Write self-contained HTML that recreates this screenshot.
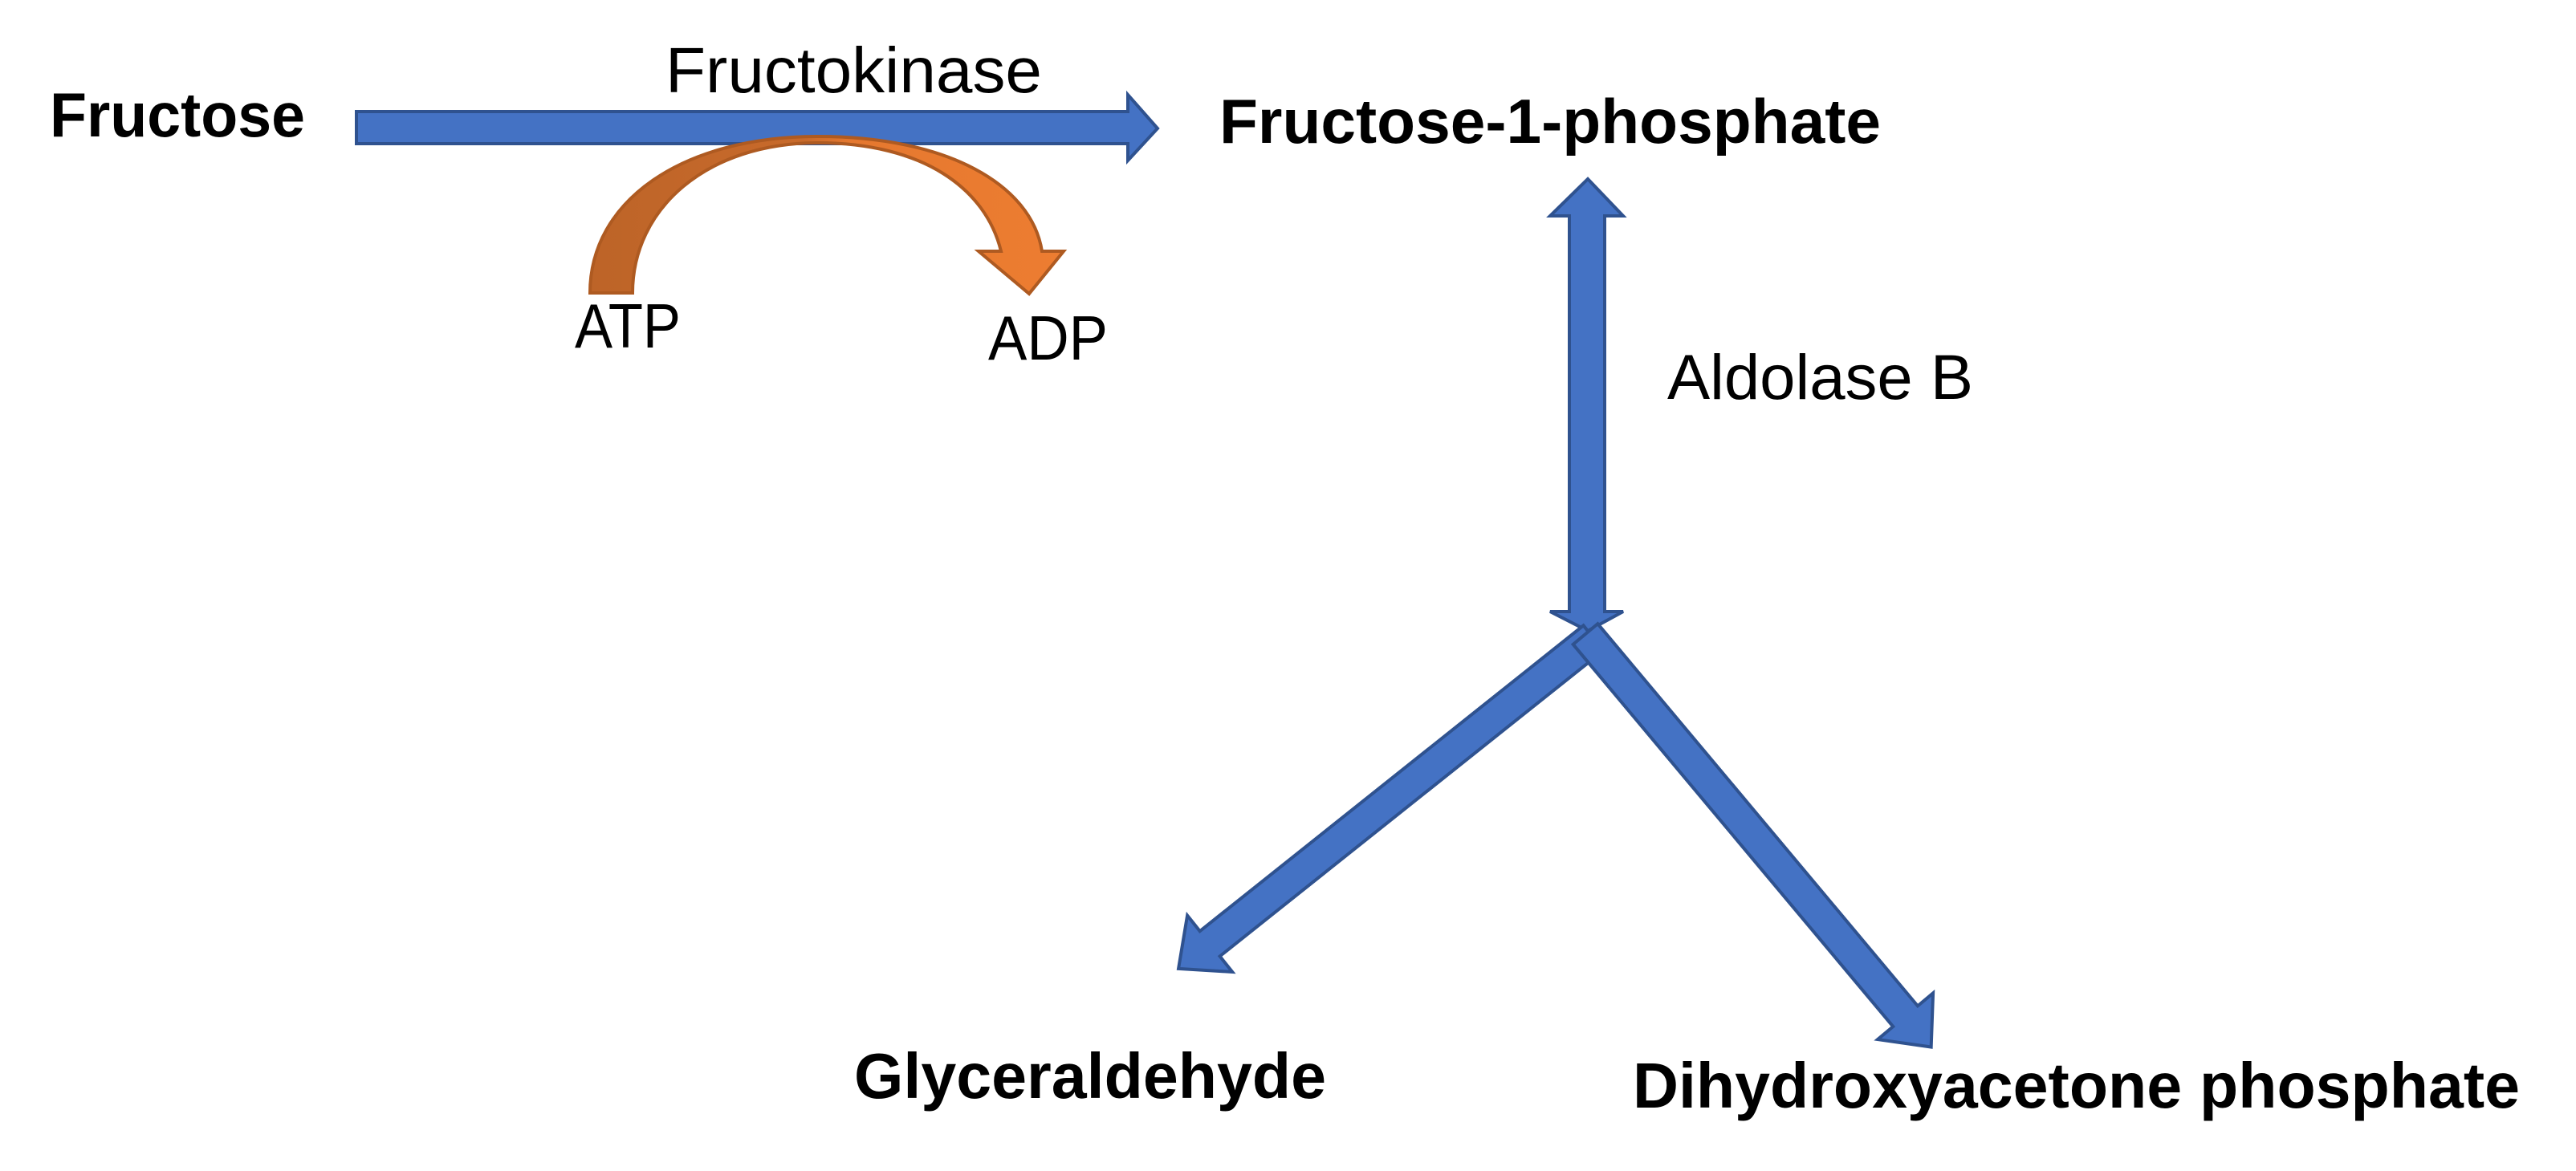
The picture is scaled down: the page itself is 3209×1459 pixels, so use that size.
<!DOCTYPE html>
<html><head><meta charset="utf-8"><style>
html,body{margin:0;padding:0;background:#fff;}
svg{display:block;}
text{font-family:"Liberation Sans",sans-serif;fill:#000;}
</style></head><body>
<svg width="3209" height="1459" viewBox="0 0 3209 1459" xmlns="http://www.w3.org/2000/svg">
<defs>
<linearGradient id="og" x1="735" y1="0" x2="1325" y2="0" gradientUnits="userSpaceOnUse">
<stop offset="0" stop-color="#BD6428"/><stop offset="0.45" stop-color="#C86A2B"/><stop offset="0.55" stop-color="#E5782F"/><stop offset="1" stop-color="#ED7D31"/>
</linearGradient>
</defs>
<!-- horizontal arrow -->
<polygon points="444,139 1405,139 1405,118 1442,160 1405,200 1405,179 444,179" fill="#4472C4" stroke="#2F528F" stroke-width="4"/>
<!-- orange curved arrow -->
<path d="M735,365 C735,250 850,170 1019,170 C1180,170 1285,230 1298,313 L1325,313 L1282,366 L1219,313 L1247,313 C1228,235 1150,178 1019,178 C880,178 788,260 788,365 Z" fill="url(#og)" stroke="#AE5A21" stroke-width="4" stroke-linejoin="miter"/>
<!-- vertical double arrow -->
<polygon points="1978,223 2022,269 1999,269 1999,762 2022,762 1978,786 1931,762 1955,762 1955,269 1931,269" fill="#4472C4" stroke="#2F528F" stroke-width="4"/>
<!-- left diagonal -->
<g transform="translate(1985,795) rotate(141.45)">
<polygon points="0,-20 611,-20 611,-45 661,0 611,45 611,20 0,20" fill="#4472C4" stroke="#2F528F" stroke-width="4"/>
</g>
<!-- right diagonal -->
<g transform="translate(1975,790) rotate(50.07)">
<polygon points="0,-20 621,-20 621,-45 671,0 621,45 621,20 0,20" fill="#4472C4" stroke="#2F528F" stroke-width="4"/>
</g>
<text x="62" y="170" font-size="78" font-weight="bold" textLength="318" lengthAdjust="spacingAndGlyphs">Fructose</text>
<text x="829" y="115" font-size="80" textLength="469" lengthAdjust="spacingAndGlyphs">Fructokinase</text>
<text x="716" y="433" font-size="78" textLength="132" lengthAdjust="spacingAndGlyphs">ATP</text>
<text x="1231" y="448" font-size="78" textLength="149" lengthAdjust="spacingAndGlyphs">ADP</text>
<text x="1519" y="178" font-size="78" font-weight="bold" textLength="824" lengthAdjust="spacingAndGlyphs">Fructose-1-phosphate</text>
<text x="2077" y="497" font-size="79" textLength="381" lengthAdjust="spacingAndGlyphs">Aldolase B</text>
<text x="1064" y="1368" font-size="80" font-weight="bold" textLength="588" lengthAdjust="spacingAndGlyphs">Glyceraldehyde</text>
<text x="2034" y="1380" font-size="80" font-weight="bold" textLength="1105" lengthAdjust="spacingAndGlyphs">Dihydroxyacetone phosphate</text>
</svg>
</body></html>
